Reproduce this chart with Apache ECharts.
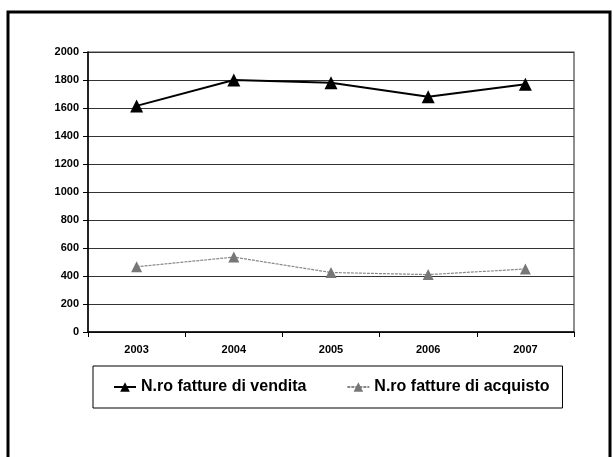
<!DOCTYPE html>
<html>
<head>
<meta charset="utf-8">
<script src="https://cdn.jsdelivr.net/npm/echarts@6/dist/echarts.min.js"></script>
<style>
  html, body { margin: 0; padding: 0; background: #fff; }
  #chart { width: 613px; height: 457px; }
</style>
</head>
<body>
<div id="chart"></div>
<script>
// Anni e numero di fatture
const anni = ['2003', '2004', '2005', '2006', '2007'];
const fattureVendita = [1615, 1800, 1780, 1680, 1770];
const fattureAcquisto = [466, 535, 425, 410, 450];
const yTicks = { min: 0, max: 2000, step: 200 };

const FONT = '"Liberation Sans", Arial, sans-serif';

const chart = echarts.init(document.getElementById('chart'), null, { renderer: 'canvas' });

chart.setOption({
  backgroundColor: '#fff',
  animation: false,
  graphic: [
    {
      type: 'rect',
      shape: { x: 8, y: 12, width: 602, height: 470 },
      style: { fill: 'none', stroke: '#000', lineWidth: 3 },
      z: 0
    }
  ],
  grid: {
    left: 88, right: 39, top: 52, bottom: 125,
    show: true, borderColor: '#444', borderWidth: 1.2, backgroundColor: 'transparent'
  },
  legend: {
    left: 93,
    top: 366,
    padding: [13, 13, 13, 20],
    itemGap: 40,
    itemWidth: 22,
    itemHeight: 12,
    borderColor: '#000',
    borderWidth: 1,
    textStyle: { fontFamily: FONT, fontWeight: 'bold', fontSize: 16, color: '#000' },
    data: ['N.ro fatture di vendita', 'N.ro fatture di acquisto']
  },
  xAxis: {
    type: 'category',
    data: anni,
    boundaryGap: true,
    axisLine: { show: true, lineStyle: { color: '#000', width: 1.5 } },
    axisTick: { show: true, length: 5, lineStyle: { color: '#000' } },
    axisLabel: { fontFamily: FONT, fontWeight: 'bold', fontSize: 11, color: '#000', margin: 12 },
    splitLine: { show: false }
  },
  yAxis: {
    type: 'value',
    min: yTicks.min,
    max: yTicks.max,
    interval: yTicks.step,
    axisLine: { show: true, lineStyle: { color: '#000', width: 1.5 } },
    axisTick: { show: true, length: 5, lineStyle: { color: '#000' } },
    axisLabel: {
      fontFamily: FONT, fontWeight: 'bold', fontSize: 11, color: '#000', margin: 9,
      formatter: (v) => String(v)
    },
    splitLine: { show: true, lineStyle: { color: '#333', width: 1.2 } }
  },
  series: [
    {
      name: 'N.ro fatture di vendita',
      type: 'line',
      data: fattureVendita,
      symbol: 'triangle',
      symbolSize: 13,
      itemStyle: { color: '#000' },
      lineStyle: { color: '#000', width: 2 },
      z: 3
    },
    {
      name: 'N.ro fatture di acquisto',
      type: 'line',
      data: fattureAcquisto,
      symbol: 'triangle',
      symbolSize: 11,
      itemStyle: { color: '#777' },
      lineStyle: { color: '#888', width: 1.2, type: [3, 1] },
      z: 3
    }
  ]
});
</script>
</body>
</html>
